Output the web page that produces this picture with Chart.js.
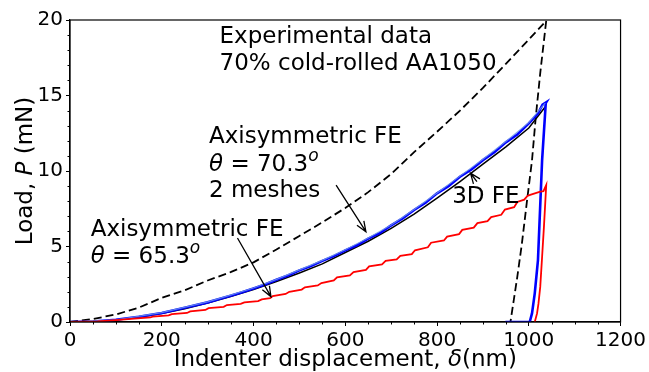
<!DOCTYPE html>
<html>
<head>
<meta charset="utf-8">
<script src="https://cdn.jsdelivr.net/npm/chart.js@4.4.1/dist/chart.umd.min.js"></script>
<style>
    body { margin: 0; background: #fff; }
    #wrap { width: 649px; height: 372px; position: relative; }
</style>
</head>
<body>
<div id="wrap"><canvas id="loadChart"></canvas></div>
<script>
// Experimental data (dashed): loading then unloading
const expX = [0, 50, 100, 150, 200, 250, 300, 350, 400, 450, 500, 550, 600, 650, 700, 750, 800, 850, 900, 950, 1000, 1038,
              1025, 1015, 1007, 996, 985, 975, 967, 960, 950];
const expY = [0, 0.2, 0.5, 0.95, 1.6, 2.1, 2.75, 3.3, 3.95, 4.8, 5.7, 6.6, 7.55, 8.6, 9.8, 11.25, 12.6, 14.0, 15.5, 17.1, 18.7, 19.95,
              16.5, 13.5, 10.7, 8.0, 5.2, 3.0, 1.4, 0, 0];

// Axisymmetric FE, theta = 70.3 (blue)
const blueX = [0, 50, 100, 150, 200, 250, 300, 325, 350, 375, 400, 425, 450, 475, 500, 525, 550, 575, 600, 625, 650, 675, 700,
               725, 750, 775, 800, 825, 850, 875, 900, 925, 950, 975, 1000, 1020, 1030, 1038,
               1037, 1029, 1020, 1013, 1007, 1002, 949];
const blueY = [0, 0.03, 0.15, 0.35, 0.6, 0.95, 1.3, 1.52, 1.74, 1.97, 2.22, 2.48, 2.8, 3.08, 3.42, 3.7, 4.05, 4.36, 4.74, 5.08,
               5.52, 5.88, 6.4, 6.86, 7.42, 7.9, 8.52, 9.0, 9.62, 10.1, 10.72, 11.25, 11.9, 12.42, 13.15, 13.8, 14.4, 14.55,
               14.5, 10.7, 4.1, 1.9, 0.57, 0, 0];

// second mesh (lighter blue)
const blue2X = [0, 100, 200, 300, 350, 400, 450, 500, 550, 600, 650, 700, 750, 800, 850, 900, 950, 1000, 1030, 1036];
const blue2Y = [0, 0.14, 0.62, 1.33, 1.78, 2.25, 2.82, 3.45, 4.08, 4.78, 5.56, 6.42, 7.45, 8.55, 9.66, 10.78, 11.95, 13.2, 14.3, 14.5];

// 3D FE (black)
const blackX = [0, 50, 100, 150, 200, 250, 300, 350, 400, 450, 500, 550, 600, 650, 700, 750, 800, 850, 900, 950, 1000, 1036];
const blackY = [0, 0.02, 0.13, 0.32, 0.56, 0.88, 1.25, 1.68, 2.15, 2.68, 3.25, 3.85, 4.6, 5.35, 6.2, 7.15, 8.2, 9.3, 10.45, 11.6, 12.85, 14.25];

// Axisymmetric FE, theta = 65.3 (red)
const redX = [0, 60, 100, 140, 175, 180, 215, 222, 255, 262, 295, 302, 335, 342, 372, 380, 410, 418, 436, 442, 470, 478, 505, 512,
              540, 548, 575, 582, 610, 618, 645, 652, 680, 688, 712, 720, 745, 752, 780, 787, 815, 822, 848, 855, 880, 888,
              910, 918, 940, 948, 968, 975, 990, 997, 1003, 1025, 1032, 1038,
              1033, 1029, 1025, 1021, 1018, 1013];
const redY = [0, 0.04, 0.12, 0.22, 0.3, 0.36, 0.44, 0.52, 0.6, 0.7, 0.8, 0.92, 1.0, 1.12, 1.2, 1.3, 1.38, 1.5, 1.58, 1.72, 1.86, 2.0,
              2.15, 2.3, 2.42, 2.58, 2.75, 2.95, 3.08, 3.3, 3.45, 3.68, 3.82, 4.05, 4.15, 4.38, 4.5, 4.75, 4.95, 5.25, 5.4, 5.65,
              5.82, 6.1, 6.25, 6.55, 6.68, 6.95, 7.1, 7.45, 7.6, 7.95, 8.1, 8.35, 8.42, 8.63, 8.66, 9.07,
              6.3, 4.3, 2.34, 1.2, 0.57, 0];

const xTicks = [0, 200, 400, 600, 800, 1000, 1200];
const yTicks = [0, 5, 10, 15, 20];

const FONT = '"DejaVu Sans", sans-serif';

function toPoints(xs, ys) {
    return xs.map((x, i) => ({ x: x, y: ys[i] }));
}

// text runs: [text, italic, size, raise]
function runWidth(ctx, runs) {
    let w = 0;
    runs.forEach(r => {
        ctx.font = (r[1] ? 'italic ' : '') + r[2] + 'px ' + FONT;
        w += ctx.measureText(r[0]).width;
    });
    return w;
}

function drawRuns(ctx, runs, x, y) {
    let cx = x;
    runs.forEach(r => {
        ctx.font = (r[1] ? 'italic ' : '') + r[2] + 'px ' + FONT;
        ctx.fillText(r[0], cx, y - (r[3] || 0));
        cx += ctx.measureText(r[0]).width;
    });
}

function drawArrow(ctx, x0, y0, x1, y1) {
    const ang = Math.atan2(y1 - y0, x1 - x0);
    const head = 11, spread = 0.38;
    ctx.beginPath();
    ctx.moveTo(x0, y0);
    ctx.lineTo(x1, y1);
    ctx.moveTo(x1 - head * Math.cos(ang - spread), y1 - head * Math.sin(ang - spread));
    ctx.lineTo(x1, y1);
    ctx.lineTo(x1 - head * Math.cos(ang + spread), y1 - head * Math.sin(ang + spread));
    ctx.stroke();
}

// annotations in data coordinates
const notes = [
    { x: 326, y: 18.48, runs: [['Experimental data', false, 23]] },
    { x: 326, y: 16.69, runs: [['70% cold-rolled AA1050', false, 23]] },
    { x: 303, y: 11.87, runs: [['Axisymmetric FE', false, 23]] },
    { x: 303, y: 10.02, runs: [['\u03b8', true, 23], [' = 70.3', false, 23], ['o', true, 17, 10]] },
    { x: 303, y: 8.3, runs: [['2 meshes', false, 23]] },
    { x: 45, y: 5.7, runs: [['Axisymmetric FE', false, 23]] },
    { x: 45, y: 3.89, runs: [['\u03b8', true, 23], [' = 65.3', false, 23], ['o', true, 17, 10]] },
    { x: 833, y: 7.86, runs: [['3D FE', false, 23]] }
];
const arrows = [
    [580, 9.07, 645, 5.98],
    [365, 5.56, 438, 1.68],
    [887, 9.29, 873, 9.85]
];

const extrasPlugin = {
    id: 'extras',
    afterDraw(chart) {
        const ctx = chart.ctx;
        const a = chart.chartArea;
        const xs = chart.scales.x, ys = chart.scales.y;
        ctx.save();
        ctx.strokeStyle = '#000';
        ctx.fillStyle = '#000';

        // frame
        ctx.lineWidth = 1.2;
        ctx.strokeRect(a.left, a.top, a.right - a.left, a.bottom - a.top);

        // minor ticks
        ctx.lineWidth = 1;
        ctx.beginPath();
        for (let v = 50; v < 1200; v += 50) {
            if (v % 200 === 0) continue;
            const px = Math.round(xs.getPixelForValue(v)) + 0.5;
            ctx.moveTo(px, a.bottom);
            ctx.lineTo(px, a.bottom + 2.5);
        }
        for (let v = 1; v < 20; v += 1) {
            if (v % 5 === 0) continue;
            const py = Math.round(ys.getPixelForValue(v)) + 0.5;
            ctx.moveTo(a.left, py);
            ctx.lineTo(a.left - 2.5, py);
        }
        ctx.stroke();

        // axis titles
        ctx.textBaseline = 'alphabetic';
        const xRuns = [['Indenter displacement, ', false, 23], ['\u03b4', true, 23], ['(nm)', false, 23]];
        const xw = runWidth(ctx, xRuns);
        drawRuns(ctx, xRuns, (a.left + a.right) / 2 - xw / 2, 366);

        const yRuns = [['Load, ', false, 23], ['P', true, 23], [' (mN)', false, 23]];
        const yw = runWidth(ctx, yRuns);
        ctx.save();
        ctx.translate(32, (a.top + a.bottom) / 2);
        ctx.rotate(-Math.PI / 2);
        drawRuns(ctx, yRuns, -yw / 2, 0);
        ctx.restore();

        // annotations
        notes.forEach(n => {
            drawRuns(ctx, n.runs, xs.getPixelForValue(n.x), ys.getPixelForValue(n.y));
        });
        ctx.lineWidth = 1.3;
        arrows.forEach(r => {
            drawArrow(ctx, xs.getPixelForValue(r[0]), ys.getPixelForValue(r[1]),
                      xs.getPixelForValue(r[2]), ys.getPixelForValue(r[3]));
        });
        ctx.restore();
    }
};

const ctx = document.getElementById('loadChart').getContext('2d');

new Chart(ctx, {
    type: 'scatter',
    data: {
        datasets: [
            {
                label: 'Axisymmetric FE 65.3',
                data: toPoints(redX, redY),
                borderColor: '#ff0000',
                borderWidth: 1.8,
                order: 0
            },
            {
                label: 'Axisymmetric FE 70.3 mesh 2',
                data: toPoints(blue2X, blue2Y),
                borderColor: 'rgba(110, 150, 235, 0.85)',
                borderWidth: 1.2,
                order: 1
            },
            {
                label: 'Axisymmetric FE 70.3',
                data: toPoints(blueX, blueY),
                borderColor: '#0000ff',
                borderWidth: 2.6,
                order: 2
            },
            {
                label: '3D FE',
                data: toPoints(blackX, blackY),
                borderColor: '#000000',
                borderWidth: 1.5,
                order: 3
            },
            {
                label: 'Experimental data',
                data: toPoints(expX, expY),
                borderColor: '#000000',
                borderWidth: 1.8,
                borderDash: [8, 4],
                order: 4
            }
        ]
    },
    options: {
        responsive: true,
        maintainAspectRatio: false,
        animation: false,
        showLine: true,
        elements: {
            point: { radius: 0, hoverRadius: 0 },
            line: { tension: 0, fill: false }
        },
        layout: { padding: { top: 20, right: 27, left: 0, bottom: 0 } },
        plugins: {
            legend: { display: false },
            tooltip: { enabled: false }
        },
        scales: {
            x: {
                type: 'linear',
                min: 0,
                max: 1200,
                afterBuildTicks: function(scale) {
                    scale.ticks = xTicks.map(v => ({ value: v }));
                },
                afterFit: function(scale) { scale.height = 50; },
                ticks: {
                    color: '#000',
                    font: { family: FONT, size: 20 },
                    padding: 3,
                    maxRotation: 0,
                    autoSkip: false,
                    callback: function(value) { return String(value); }
                },
                grid: {
                    drawOnChartArea: false,
                    tickLength: 4,
                    tickColor: '#000',
                    color: '#000'
                },
                border: { display: true, color: '#000', width: 1.2 }
            },
            y: {
                type: 'linear',
                min: 0,
                max: 20,
                afterBuildTicks: function(scale) {
                    scale.ticks = yTicks.map(v => ({ value: v }));
                },
                afterFit: function(scale) { scale.width = 70; },
                ticks: {
                    color: '#000',
                    font: { family: FONT, size: 20 },
                    padding: 3,
                    autoSkip: false,
                    callback: function(value) { return String(value); }
                },
                grid: {
                    drawOnChartArea: false,
                    tickLength: 4,
                    tickColor: '#000',
                    color: '#000'
                },
                border: { display: true, color: '#000', width: 1.2 }
            }
        }
    },
    plugins: [extrasPlugin]
});
</script>
</body>
</html>
